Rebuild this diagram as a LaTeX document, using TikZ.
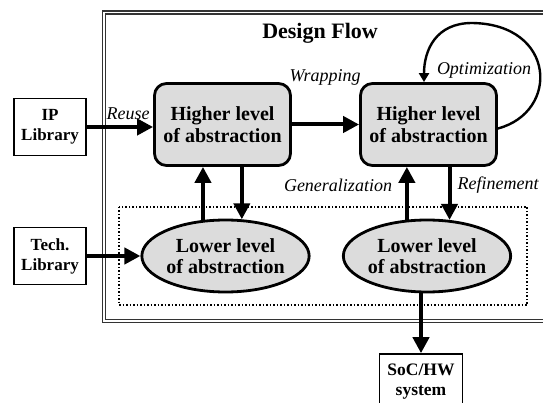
\documentclass[tikz,border=0pt]{standalone}
\usepackage{fontspec}
\setmainfont{Liberation Serif}
\usetikzlibrary{arrows.meta,shapes.geometric}
\definecolor{boxgray}{RGB}{220,220,220}
\tikzset{
  hbox/.style={draw, line width=2.8pt, rounded corners=12pt, fill=boxgray, minimum width=136pt, minimum height=82pt, inner sep=0pt, align=center, font=\fontsize{20}{21.5}\selectfont\bfseries},
  lowell/.style={draw, ellipse, line width=2.8pt, fill=boxgray, minimum width=165pt, minimum height=72pt, inner sep=0pt, align=center, font=\fontsize{20}{21.5}\selectfont\bfseries},
  libbox/.style={draw, line width=1.6pt, minimum width=72pt, minimum height=57pt, inner sep=0pt, align=center, font=\fontsize{17}{20}\selectfont\bfseries},
  flow/.style={line width=4pt, -{Triangle[length=16pt,width=16pt]}},
  lbl/.style={font=\fontsize{18}{20}\selectfont\itshape, inner sep=0pt},
}
\begin{document}
\begin{tikzpicture}[x=1pt,y=-1pt]
\useasboundingbox (0,0) rectangle (543,403);
\clip (0,0) rectangle (543,403);
% frame
\draw[line width=1.3pt, draw=black!80, double=white, double distance=1.8pt] (104,12.5) rectangle (580,321);
% dotted region
\draw[line width=1.5pt, dotted] (119,207) rectangle (527,305);
\node[font=\fontsize{22}{24}\selectfont\bfseries] (title) at (320,33) {Design Flow};
% nodes
\node[hbox] (H1) at (222.5,124.5) {Higher level\\of abstraction};
\node[hbox] (H2) at (428.5,124.5) {Higher level\\of abstraction};
\node[lowell] (E1) at (225.5,256) {Lower level\\of abstraction};
\node[lowell] (E2) at (427,256) {Lower level\\of abstraction};
\node[libbox] (IP) at (50,127) {IP\\Library};
\node[libbox] (Tech) at (50,256) {Tech.\\Library};
\node[draw, line width=1.6pt, minimum width=83pt, minimum height=56pt, inner sep=0pt, align=center, font=\fontsize{17.5}{20}\selectfont\bfseries] (SoC) at (421,382) {SoC/HW\\system};
% connectors
\draw[flow] (IP.east) -- (IP.east -| H1.west);
\draw[flow] (Tech.east) -- (Tech.east -| E1.west);
\draw[flow] (H1.east) -- (H2.west);
\draw[flow] (E1.122) -- (E1.122 |- H1.south);
\draw[flow] (H1.south -| E1.66) -- (E1.66);
\draw[flow] (E2.119) -- (E2.119 |- H2.south);
\draw[flow] (H2.south -| E2.58) -- (E2.58);
\draw[flow] (E2.south -| SoC.north) -- (SoC.north);
\coordinate (loopstart) at ([yshift=-4pt]H2.east);
\coordinate (loopend) at ([xshift=-4.5pt]H2.north);
\draw[line width=2.4pt, -{Triangle[length=9pt,width=10pt]}] (loopstart) .. controls (560,112) and (556,24) .. (472,23) .. controls (436,23) and (424,50) .. (loopend);
% labels
\node[lbl] (reuse) at (128,114) {Reuse};
\node[lbl] (wrap) at (325,77) {Wrapping};
\node[lbl] (opt) at (484,70) {Optimization};
\node[lbl] (gen) at (338,185) {Generalization};
\node[lbl] (ref) at (498,185) {Refinement};
\end{tikzpicture}
\end{document}
